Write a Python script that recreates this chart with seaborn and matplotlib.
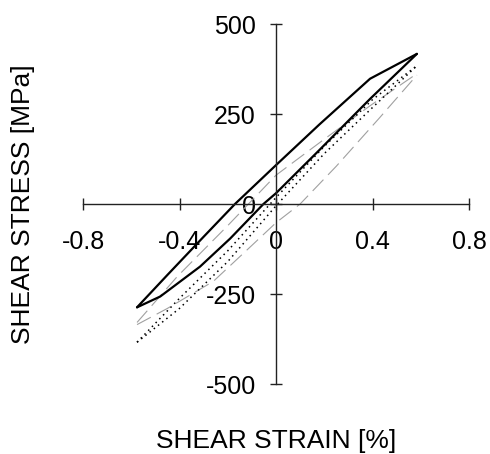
import pandas as pd
import seaborn as sns
import matplotlib.pyplot as plt

# solid black loop
solid_up_x = [-0.576, -0.45, -0.3, -0.17, 0.0, 0.18, 0.39, 0.584]
solid_up_y = [-287, -197, -91, 0, 108, 221, 348, 417]
solid_lo_x = [-0.576, -0.48, -0.315, -0.19, -0.052, 0.0, 0.18, 0.39, 0.584]
solid_lo_y = [-287, -257, -174, -96, 0, 30, 150, 292, 417]

# dotted loop
dot_up_x = [-0.576, -0.4, -0.2, 0.0, 0.2, 0.4, 0.584]
dot_up_y = [-384, -262, -130, 18, 160, 290, 384]
dot_lo_x = [-0.576, -0.4, -0.2, 0.0, 0.2, 0.4, 0.584]
dot_lo_y = [-384, -290, -160, -5, 140, 268, 384]

# grey dashed loop
gray_up_x = [-0.576, -0.41, -0.2, 0.0, 0.2, 0.39, 0.584]
gray_up_y = [-329, -202, -60, 80, 180, 273, 362]
gray_lo_x = [-0.576, -0.45, -0.26, -0.1, 0.0, 0.1, 0.25, 0.43, 0.584]
gray_lo_y = [-335, -290, -215, -115, -52, 0, 105, 240, 358]

x_ticks = [-0.8, -0.4, 0, 0.4, 0.8]
x_ticklabels = ["-0.8", "-0.4", "0", "0.4", "0.8"]
y_ticks = [-500, -250, 0, 250, 500]
y_ticklabels = ["-500", "-250", "0", "250", "500"]

sns.set_style("white")
plt.rcParams['font.family'] = ['Liberation Sans', 'DejaVu Sans']
plt.rcParams['text.color'] = 'black'
plt.rcParams['axes.labelcolor'] = 'black'
plt.rcParams['xtick.color'] = 'black'
plt.rcParams['ytick.color'] = 'black'

fig = plt.figure(figsize=(4.9, 4.54), dpi=100)
ax = fig.add_axes([83 / 490, 70 / 454, 386 / 490, 360 / 454])

def branch(xs, ys, **kw):
    df = pd.DataFrame({"strain": xs, "stress": ys})
    sns.lineplot(data=df, x="strain", y="stress", sort=False, estimator=None, ax=ax, **kw)

branch(gray_up_x, gray_up_y, color="#a0a0a0", linewidth=0.8, linestyle=(0, (14, 6)))
branch(gray_lo_x, gray_lo_y, color="#a0a0a0", linewidth=0.8, linestyle=(0, (14, 6)))
branch(dot_up_x, dot_up_y, color="black", linewidth=1.1, linestyle=(0, (1, 2.5)))
branch(dot_lo_x, dot_lo_y, color="black", linewidth=1.1, linestyle=(0, (1, 2.5)))
branch(solid_up_x, solid_up_y, color="black", linewidth=1.6)
branch(solid_lo_x, solid_lo_y, color="black", linewidth=1.6)

ax.set_xlim(-0.8, 0.8)
ax.set_ylim(-500, 500)
for s in ["top", "right"]:
    ax.spines[s].set_visible(False)
for s in ["left", "bottom"]:
    ax.spines[s].set_position(("data", 0))
    ax.spines[s].set_color("#222222")
    ax.spines[s].set_linewidth(1.0)

ax.set_xticks(x_ticks)
ax.set_xticklabels(x_ticklabels)
ax.set_yticks(y_ticks)
ax.set_yticklabels(y_ticklabels)
ax.tick_params(axis="both", direction="inout", length=9, width=1.0, color="#222222",
               labelcolor="black", labelsize=18, left=True, bottom=True)
ax.tick_params(axis="x", pad=14)
ax.tick_params(axis="y", pad=10)

ax.set_xlabel("SHEAR STRAIN [%]", fontsize=19)
ax.set_ylabel("SHEAR STRESS [MPa]", fontsize=19)
ax.xaxis.set_label_coords(0.5, -0.125)
ax.yaxis.set_label_coords(-0.125, 0.5)

fig.savefig("out.png", dpi=100)
